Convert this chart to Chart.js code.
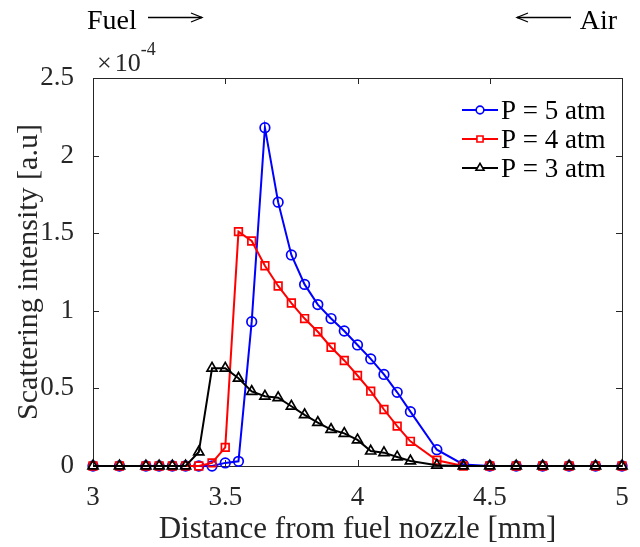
<!DOCTYPE html>
<html>
<head>
<meta charset="utf-8">
<script src="https://cdn.jsdelivr.net/npm/chart.js@4/dist/chart.umd.min.js"></script>
<style>
  html, body { margin: 0; padding: 0; background: #ffffff; }
  #wrap { width: 640px; height: 547px; }
</style>
</head>
<body>
<div id="wrap"><canvas id="c" width="640" height="547"></canvas></div>
<script>
// Distance from fuel nozzle [mm]
const distances = [3.0, 3.1, 3.2, 3.25, 3.3, 3.35, 3.4, 3.45, 3.5, 3.55, 3.6, 3.65, 3.7, 3.75, 3.8, 3.85, 3.9, 3.95, 4.0, 4.05, 4.1, 4.15, 4.2, 4.3, 4.4, 4.5, 4.6, 4.7, 4.8, 4.9, 5.0];
// Scattering intensity, in units of 1e-4
const p5atm = [0, 0, 0, 0, 0, 0, 0, 0, 0.02, 0.03, 0.93, 2.18, 1.70, 1.36, 1.17, 1.04, 0.95, 0.87, 0.78, 0.69, 0.59, 0.475, 0.35, 0.105, 0.01, 0, 0, 0, 0, 0, 0];
const p4atm = [0, 0, 0, 0, 0, 0, 0, 0.02, 0.12, 1.51, 1.45, 1.29, 1.16, 1.05, 0.95, 0.865, 0.765, 0.68, 0.583, 0.482, 0.364, 0.257, 0.159, 0.037, 0, 0, 0, 0, 0, 0, 0];
const p3atm = [0, 0, 0, 0, 0, 0, 0.09, 0.63, 0.63, 0.565, 0.48, 0.45, 0.44, 0.385, 0.33, 0.28, 0.235, 0.21, 0.168, 0.096, 0.086, 0.058, 0.032, 0.005, 0, 0, 0, 0, 0, 0, 0];
const seriesLabels = ['P = 5 atm', 'P = 4 atm', 'P = 3 atm'];
const xTickValues = [3, 3.5, 4, 4.5, 5];
const yTickValues = [0, 0.5, 1, 1.5, 2, 2.5];
const yExponentLabel = ['\u00d7', '10', '-4'];
const xTitle = 'Distance from fuel nozzle [mm]';
const yTitle = 'Scattering intensity [a.u]';

const SERIF = "'Liberation Serif', 'Times New Roman', serif";
const AXIS = '#262626';

function pts(ys) { return distances.map((x, i) => ({ x: x, y: ys[i] })); }

const styles = [
  { color: '#0000ff', pointStyle: 'circle', radius: 4.8, order: 2 },
  { color: '#ff0000', pointStyle: 'rect', radius: 5.4, order: 1 },
  { color: '#000000', pointStyle: 'triangle', radius: 5.8, order: 0 }
];
const seriesData = [p5atm, p4atm, p3atm];

const datasets = seriesData.map((ys, i) => ({
  label: seriesLabels[i],
  data: pts(ys),
  showLine: true,
  borderColor: styles[i].color,
  backgroundColor: styles[i].color,
  borderWidth: 2,
  pointStyle: styles[i].pointStyle,
  pointRadius: styles[i].radius,
  pointBorderWidth: 1.7,
  pointBorderColor: styles[i].color,
  pointBackgroundColor: 'rgba(255,255,255,0)',
  order: styles[i].order,
  clip: false,
  tension: 0
}));

const framePlugin = {
  id: 'frame',
  beforeDatasetsDraw(chart) {
    const { ctx, chartArea: a, scales } = chart;
    ctx.save();
    ctx.strokeStyle = AXIS;
    ctx.lineWidth = 1;
    ctx.strokeRect(Math.round(a.left) + 0.5, Math.round(a.top) + 0.5, Math.round(a.right - a.left), Math.round(a.bottom - a.top));
    const tl = 6;
    ctx.beginPath();
    xTickValues.forEach(v => {
      const x = Math.round(scales.x.getPixelForValue(v)) + 0.5;
      ctx.moveTo(x, a.bottom); ctx.lineTo(x, a.bottom - tl);
      ctx.moveTo(x, a.top); ctx.lineTo(x, a.top + tl);
    });
    yTickValues.forEach(v => {
      const y = Math.round(scales.y.getPixelForValue(v)) + 0.5;
      ctx.moveTo(a.left, y); ctx.lineTo(a.left + tl, y);
      ctx.moveTo(a.right, y); ctx.lineTo(a.right - tl, y);
    });
    ctx.stroke();
    ctx.restore();
  },
  afterDraw(chart) {
    const { ctx, chartArea: a } = chart;
    ctx.save();
    // exponent label
    ctx.fillStyle = AXIS;
    ctx.textBaseline = 'alphabetic';
    ctx.textAlign = 'left';
    ctx.font = '26px ' + SERIF;
    let x = a.left + 4;
    ctx.fillText(yExponentLabel[0], x, a.top - 7);
    x += ctx.measureText(yExponentLabel[0]).width + 3;
    ctx.fillText(yExponentLabel[1], x, a.top - 7);
    x += ctx.measureText(yExponentLabel[1]).width;
    ctx.font = '18px ' + SERIF;
    ctx.fillText(yExponentLabel[2], x, a.top - 23);

    // Fuel / Air annotations
    ctx.fillStyle = '#000000';
    ctx.strokeStyle = '#000000';
    ctx.font = '28px ' + SERIF;
    ctx.textBaseline = 'alphabetic';
    ctx.textAlign = 'left';
    ctx.fillText('Fuel', 87, 29);
    ctx.textAlign = 'right';
    ctx.fillText('Air', 617, 29);
    ctx.lineWidth = 1.3;
    // right arrow after Fuel
    ctx.beginPath();
    ctx.moveTo(148, 17.5); ctx.lineTo(202, 17.5);
    ctx.stroke();
    ctx.beginPath();
    ctx.moveTo(191, 13); ctx.lineTo(202, 17.5); ctx.lineTo(191, 22);
    ctx.stroke();
    // left arrow before Air
    ctx.beginPath();
    ctx.moveTo(517, 17.5); ctx.lineTo(571, 17.5);
    ctx.stroke();
    ctx.beginPath();
    ctx.moveTo(528, 13); ctx.lineTo(517, 17.5); ctx.lineTo(528, 22);
    ctx.stroke();

    // legend
    const rows = [110, 139, 168];
    chart.data.datasets.forEach((ds, i) => {
      const y = rows[i];
      ctx.strokeStyle = ds.borderColor;
      ctx.lineWidth = 2;
      ctx.beginPath();
      ctx.moveTo(462, y); ctx.lineTo(498, y);
      ctx.stroke();
      ctx.lineWidth = 1.6;
      ctx.strokeStyle = ds.borderColor;
      ctx.fillStyle = '#ffffff';
      Chart.helpers.drawPoint(ctx, { pointStyle: ds.pointStyle, radius: ds.pointRadius * 0.8, rotation: 0, borderWidth: 1.6 }, 480, y);
      ctx.fillStyle = '#000000';
      ctx.font = '27px ' + SERIF;
      ctx.textAlign = 'left';
      ctx.textBaseline = 'alphabetic';
      ctx.fillText(ds.label, 501, y + 9);
    });
    ctx.restore();
  }
};

new Chart(document.getElementById('c'), {
  type: 'scatter',
  data: { datasets: datasets },
  options: {
    responsive: false,
    animation: false,
    layout: { padding: { top: 78, right: 18, left: 0, bottom: 0 } },
    plugins: { legend: { display: false }, tooltip: { enabled: false } },
    scales: {
      x: {
        type: 'linear',
        min: 3, max: 5,
        afterFit(s) { s.height = 81; },
        afterBuildTicks(s) { s.ticks = xTickValues.map(v => ({ value: v })); },
        grid: { display: false },
        border: { display: false },
        ticks: {
          color: AXIS,
          font: { family: SERIF, size: 27 },
          padding: 8,
          maxRotation: 0,
          callback: v => String(v)
        },
        title: {
          display: true,
          text: xTitle,
          color: AXIS,
          font: { family: SERIF, size: 31, lineHeight: 1 },
          padding: { top: 0, bottom: 2 }
        }
      },
      y: {
        type: 'linear',
        min: 0, max: 2.5,
        afterFit(s) { s.width = 93; },
        afterBuildTicks(s) { s.ticks = yTickValues.map(v => ({ value: v })); },
        grid: { display: false },
        border: { display: false },
        ticks: {
          color: AXIS,
          font: { family: SERIF, size: 27 },
          padding: 11,
          callback: v => String(v)
        },
        title: {
          display: true,
          text: yTitle,
          color: AXIS,
          font: { family: SERIF, size: 30, lineHeight: 1 },
          padding: { top: 14, bottom: 0 }
        }
      }
    }
  },
  plugins: [framePlugin]
});
</script>
</body>
</html>
